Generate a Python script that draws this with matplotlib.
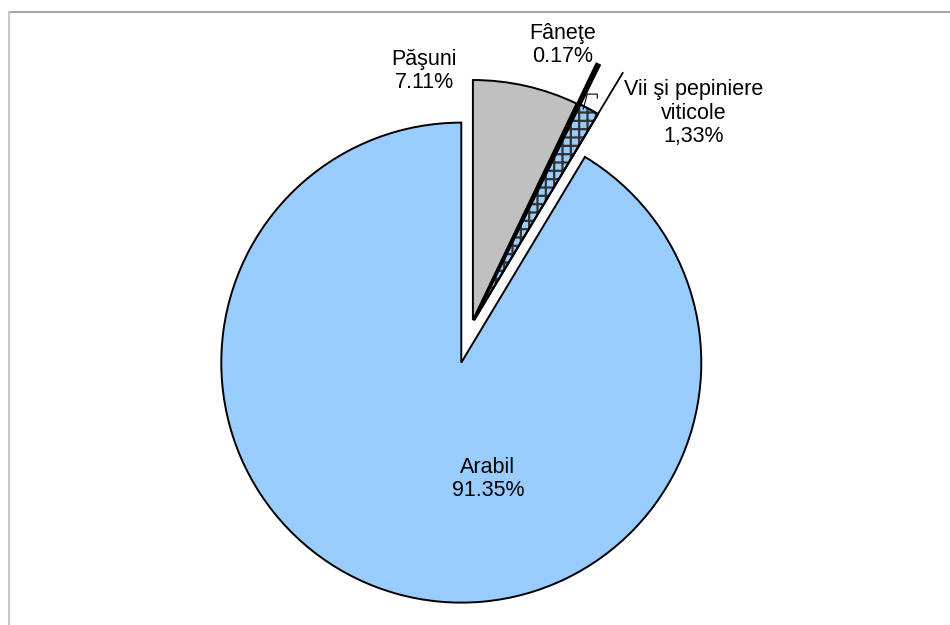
import matplotlib
matplotlib.use('Agg')

import numpy as np
import matplotlib.pyplot as plt
from matplotlib.patches import Wedge
from matplotlib.lines import Line2D

# Structura fondului funciar agricol (%)
categorii = ['Păşuni', 'Fâneţe', 'Vii şi pepiniere viticole', 'Arabil']
procente = [7.11, 0.17, 1.33, 91.35]
etichete = ['Păşuni\n7.11%', 'Fâneţe\n0.17%', 'Vii şi pepiniere\nviticole\n1,33%', 'Arabil\n91.35%']
culori = ['#C0C0C0', '#000000', '#99CCFF', '#99CCFF']
explodare = [0.017, 0.2, 0.02, 0.167]

plt.rcParams['font.family'] = ['Liberation Sans', 'DejaVu Sans']
plt.rcParams['hatch.linewidth'] = 1.6

W, H = 950, 625
cx, cy, R = 472, 324, 240   # centrul si raza in pixeli (imagine)

fig = plt.figure(figsize=(W / 100, H / 100), dpi=100)
ax = fig.add_axes([0, 0, 1, 1])

wedges, _ = ax.pie(procente, explode=explodare, colors=culori, startangle=90,
                   counterclock=False, radius=1,
                   wedgeprops=dict(edgecolor='black', linewidth=1.4))
ax.set_xlim(-cx / R, (W - cx) / R)
ax.set_ylim(-(H - cy) / R, cy / R)
ax.set_aspect('auto')
ax.axis('off')

# Fâneţe - felie foarte subtire, contur gros
wedges[1].set_linewidth(2.4)

# Vii - model in carouri
vii = wedges[2]
ax.add_patch(Wedge(vii.center, vii.r, vii.theta1, vii.theta2, facecolor='none',
                   edgecolor='#333333', hatch='++', linewidth=0))
ax.add_patch(Wedge(vii.center, vii.r, vii.theta1, vii.theta2, facecolor='none',
                   edgecolor='black', linewidth=1.4))

# linia subtire care prelungeste marginea feliei Vii
t = np.deg2rad(vii.theta1)
lung = 1 + explodare[1]
ax.plot([vii.center[0], vii.center[0] + lung * np.cos(t)],
        [vii.center[1], vii.center[1] + lung * np.sin(t)], color='black', lw=1.3)

# mica linie de legatura pentru eticheta Vii
tm = np.deg2rad((vii.theta1 + vii.theta2) / 2)
p0 = (vii.center[0] + vii.r * np.cos(tm), vii.center[1] + vii.r * np.sin(tm))
px = 1 / R
ax.plot([p0[0] - 6 * px, p0[0] - 2 * px, p0[0] + 8 * px, p0[0] + 8 * px],
        [p0[1], p0[1] + 15 * px, p0[1] + 15 * px, p0[1] + 11 * px],
        color='black', lw=0.8)

# etichete (pozitii in pixeli imagine)
poz = [(424, 71), (563, 45), (694, 113), (488, 479)]
for txt, (x, y) in zip(etichete, poz):
    ax.text((x - cx) / R, (cy - y) / R, txt, ha='center', va='center',
            multialignment='center', fontsize=15.5, linespacing=1.15)

# chenarul graficului (doar sus si stanga vizibile)
fig.add_artist(Line2D([9 / W, 1], [1 - 12 / H, 1 - 12 / H], transform=fig.transFigure,
                      color='#A6A6A6', lw=1.5))
fig.add_artist(Line2D([9 / W, 9 / W], [0, 1 - 12 / H], transform=fig.transFigure,
                      color='#C8C8C8', lw=1.5))

plt.savefig('out.png', dpi=100)
